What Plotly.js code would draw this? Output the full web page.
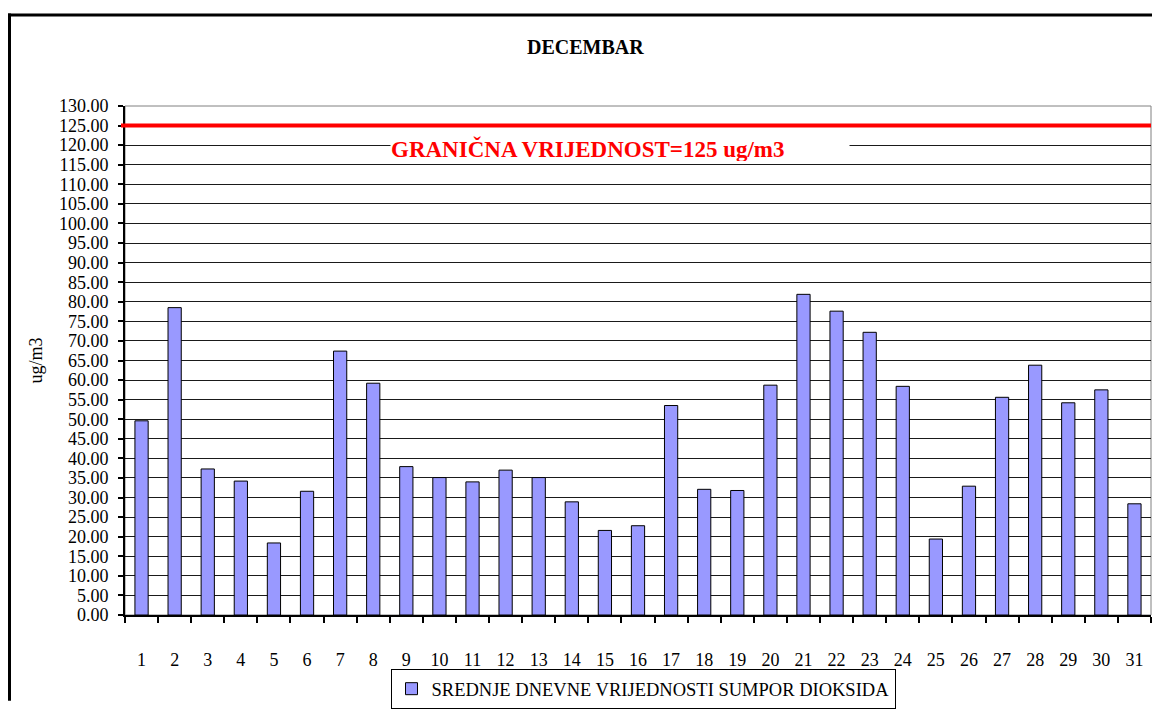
<!DOCTYPE html>
<html>
<head>
<meta charset="utf-8">
<script src="https://cdn.plot.ly/plotly-3.0.1.min.js"></script>
<style>html,body{margin:0;padding:0;background:#fff;overflow:hidden;}#chart{width:1152px;height:710px;}</style>
</head>
<body>
<div id="chart"></div>
<script>
const days = ['1','2','3','4','5','6','7','8','9','10','11','12','13','14','15','16','17','18','19','20','21','22','23','24','25','26','27','28','29','30','31'];
const so2Values = [49.6,78.5,37.3,34.2,18.4,31.6,67.4,59.2,37.9,35.1,34.0,37.0,35.1,28.9,21.6,22.8,53.5,32.1,31.8,58.7,81.9,77.6,72.2,58.4,19.4,32.9,55.6,63.8,54.2,57.5,28.4];
const limitValue = 125;
const seriesName = 'SREDNJE DNEVNE VRIJEDNOSTI SUMPOR DIOKSIDA';
const limitLabel = 'GRANIČNA VRIJEDNOST=125 ug/m3';
const chartTitle = 'DECEMBAR';
const yTitle = 'ug/m3';

const serif = 'Liberation Serif';

const trace = {
  type: 'bar',
  x: days,
  y: so2Values,
  name: seriesName,
  marker: {color: '#9999FF', line: {color: '#000000', width: 1}},
  showlegend: true
};

const L = 125, R = 1, T = 106, B = 87;
const pw = 1152 - L - R, ph = 710 - T - B;
const px = v => (v - L) / pw;
const py = v => (710 - B - v) / ph;

const layout = {
  width: 1152, height: 710,
  margin: {l: L, r: R, t: T, b: B},
  paper_bgcolor: '#ffffff',
  plot_bgcolor: '#ffffff',
  bargap: 0.6,
  font: {family: serif, size: 18, color: '#000'},
  xaxis: {
    type: 'category',
    tickson: 'boundaries',
    ticks: 'outside', ticklen: 6, tickwidth: 2, tickcolor: '#000',
    showgrid: false,
    showline: true, linecolor: '#000', linewidth: 2,
    tickfont: {family: serif, size: 18},
    ticklabelstandoff: 27,
    fixedrange: true
  },
  yaxis: {
    range: [0, 130],
    dtick: 5,
    tickformat: '.2f',
    ticks: 'outside', ticklen: 5, tickwidth: 2, tickcolor: '#000',
    showgrid: true, gridcolor: '#1a1a1a', gridwidth: 1,
    showline: true, linecolor: '#000', linewidth: 2,
    zeroline: false,
    tickfont: {family: serif, size: 18},
    ticklabelstandoff: 6,
    title: {text: yTitle, font: {family: serif, size: 18}, standoff: 12},
    fixedrange: true
  },
  legend: {
    x: px(643), xanchor: 'center',
    y: py(678), yanchor: 'top',
    orientation: 'h',
    bordercolor: '#000', borderwidth: 1,
    bgcolor: '#fff',
    font: {family: serif, size: 18.5},
    itemwidth: 30
  },
  shapes: [
    {type: 'rect', xref: 'paper', yref: 'paper', x0: 0, x1: 1, y0: 0, y1: 1,
     line: {color: '#808080', width: 1}, layer: 'below'},
    {type: 'line', xref: 'paper', yref: 'y', x0: px(121), x1: 1, y0: limitValue, y1: limitValue,
     line: {color: '#FF0000', width: 4}},
    {type: 'line', xref: 'paper', yref: 'paper', x0: px(9.5), x1: px(9.5), y0: py(710), y1: py(12),
     line: {color: '#000', width: 3}},
    {type: 'line', xref: 'paper', yref: 'paper', x0: px(8), x1: px(1152), y0: py(13.5), y1: py(13.5),
     line: {color: '#000', width: 3}}
  ],
  annotations: [
    {xref: 'paper', yref: 'paper', x: px(585), y: py(46), xanchor: 'center', yanchor: 'middle',
     text: '<b>' + chartTitle + '</b>', showarrow: false, font: {family: serif, size: 20, color: '#000'}},
    {xref: 'paper', yref: 'paper', x: px(390), y: py(149.5), xanchor: 'left', yanchor: 'middle',
     text: '<b>' + limitLabel + '</b>', showarrow: false, bgcolor: '#ffffff',
     width: 458, align: 'left', height: 25, borderpad: 0,
     font: {family: serif, size: 23, color: '#FF0000'}}
  ]
};

Plotly.newPlot('chart', [trace], layout, {displayModeBar: false, staticPlot: true});
</script>
</body>
</html>
